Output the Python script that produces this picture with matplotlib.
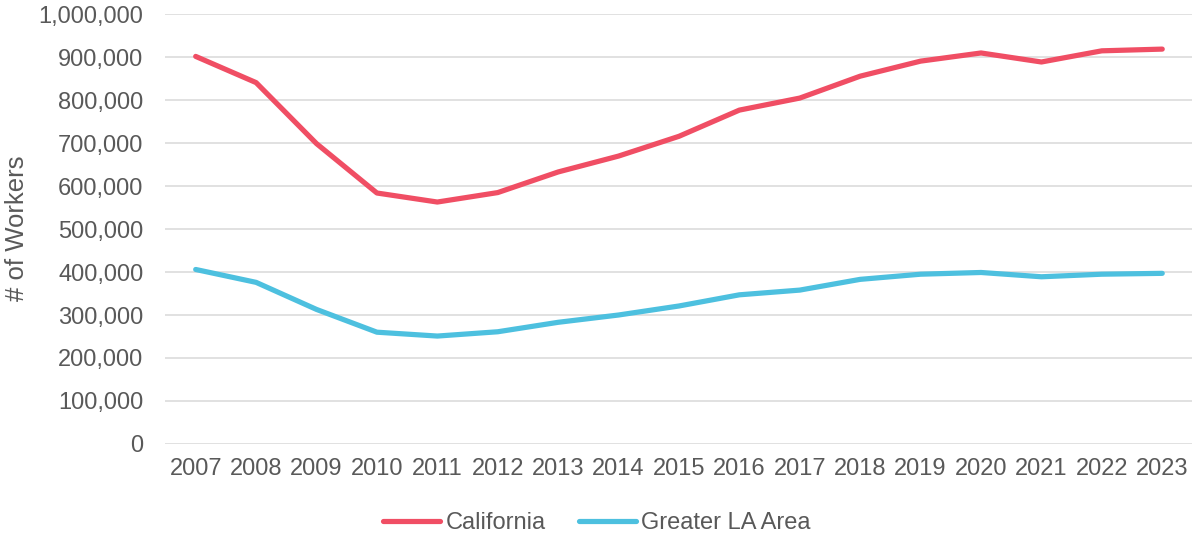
import matplotlib
matplotlib.use("Agg")
import matplotlib.pyplot as plt
from matplotlib.ticker import FuncFormatter


years = list(range(2007, 2024))
california = [902000, 841000, 699000, 584000, 563000, 585000, 633000, 670000, 716000,
              777000, 805000, 856000, 891000, 910000, 889000, 915000, 919000]
greater_la = [406000, 376000, 313000, 260000, 251000, 261000, 283000, 300000, 321000,
              347000, 358000, 383000, 395000, 399000, 389000, 395000, 397000]

RED  = "#F04E64"
BLUE = "#4DC0DF"
GREY = "#595959"

plt.rcParams['font.family'] = ['Liberation Sans', 'DejaVu Sans']

fig = plt.figure(figsize=(11.94, 5.4), dpi=100)
ax = fig.add_axes([0.1386, 0.178, 0.8601, 0.7955])

ax.plot(years, california, color=RED, lw=3.75, solid_capstyle='round', label="California")
ax.plot(years, greater_la, color=BLUE, lw=3.75, solid_capstyle='round', label="Greater LA Area")

ax.set_xlim(2006.5, 2023.5)
ax.set_ylim(0, 1000000)
ax.set_xticks(years)
ax.set_yticks(range(0, 1000001, 100000))
ax.yaxis.set_major_formatter(FuncFormatter(lambda v, p: f"{int(v):,}"))

ax.grid(axis='y', color="#D9D9D9", lw=1.1)
ax.set_axisbelow(True)
for s in ax.spines.values():
    s.set_visible(False)

ax.tick_params(axis='both', length=0, labelsize=17, labelcolor=GREY)
ax.tick_params(axis='y', pad=16)
ax.tick_params(axis='x', pad=10.5)

fig.text(17/1194, 1-228/540, "# of Workers", rotation=90, ha='center', va='center',
         fontsize=18.5, color=GREY)

leg = fig.legend(loc='center', bbox_to_anchor=(0.5, 1-523/540), ncol=2, frameon=False,
                 fontsize=17, handlelength=2.4, handletextpad=0.25, columnspacing=1.4)
for t in leg.get_texts():
    t.set_color(GREY)

fig.savefig("out.png", dpi=100)
